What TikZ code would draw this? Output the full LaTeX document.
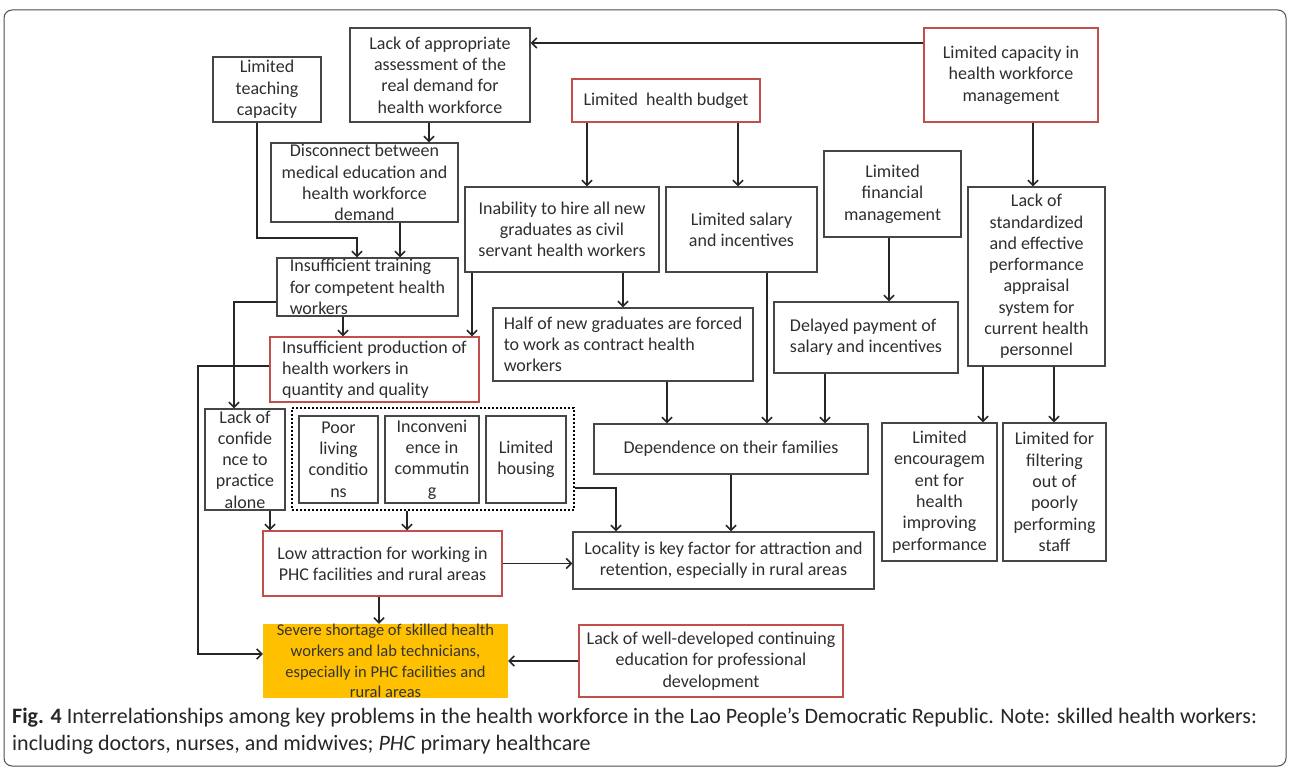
\documentclass[tikz,border=0pt]{standalone}
\usepackage{fontspec}
\setmainfont{Carlito}
\usepackage{tikz}
\usetikzlibrary{arrows.meta,positioning}

\definecolor{boxgray}{RGB}{70,70,70}
\definecolor{boxred}{RGB}{192,80,77}
\definecolor{shortfill}{RGB}{255,192,0}
\newcommand{\boxfont}{\fontsize{18}{21.3}\selectfont}

\tikzset{
  box/.style={draw=boxgray, line width=1.4pt, inner sep=0pt, align=center,
              font=\boxfont, text=black!82},
  redbox/.style={box, draw=boxred},
  arr/.style={-{Straight Barb[length=5pt,width=10pt]}, line width=1.6pt, draw=black!85},
}

\begin{document}
\begin{tikzpicture}[x=1pt, y=-1pt]
  \useasboundingbox (0,0) rectangle (1290,770);
  % Frame
  \draw[line width=1pt, black!70, rounded corners=8pt] (4,10) rectangle (1286,766);

  % Top row
  \node[box, minimum width=108pt, minimum height=65pt] (teach) at (267,89.5)
    {Limited\\teaching\\capacity};
  \node[box, minimum width=180pt, minimum height=94pt] (assess) at (440,75)
    {Lack of appropriate\\assessment of the\\real demand for\\health workforce};
  \node[redbox, minimum width=174pt, minimum height=94pt] (mgmt) at (1011,75)
    {Limited capacity in\\health workforce\\management};
  \node[redbox, minimum width=188pt, minimum height=43pt] (budget) at (666,100.5)
    {Limited\ \ health budget};

  % Second row
  \node[box, minimum width=187pt, minimum height=79pt] (disc) at (364.5,182.5)
    {Disconnect between\\medical education and\\health workforce\\demand};
  \node[box, minimum width=194pt, minimum height=85pt] (hire) at (562,229.5)
    {Inability to hire all new\\graduates as civil\\servant health workers};
  \node[box, minimum width=151pt, minimum height=85pt] (salary) at (741.5,229.5)
    {Limited salary\\and incentives};
  \node[box, minimum width=137pt, minimum height=86pt] (finmgmt) at (892.5,194)
    {Limited\\financial\\management};
  \node[box, minimum width=137pt, minimum height=179pt] (perf) at (1036.5,276.5)
    {Lack of\\standardized\\and effective\\performance\\appraisal\\system for\\current health\\personnel};

  % Third row
  \node[box, align=left, minimum width=181pt, minimum height=58pt] (train) at (367.5,287)
    {Insufficient training\\for competent health\\workers};
  \node[box, align=left, minimum width=260pt, minimum height=73pt] (half) at (623,344.5)
    {Half of new graduates are forced\\to work as contract health\\workers};
  \node[box, align=left, minimum width=184pt, minimum height=71pt] (delay) at (866,337.5)
    {Delayed payment of\\salary and incentives};
  \node[redbox, align=left, minimum width=209pt, minimum height=65pt] (prod) at (374.5,369.5)
    {Insufficient production of\\health workers in\\quantity and quality};

  % Living conditions
  \node[box, minimum width=80pt, minimum height=101pt] (conf) at (245,459.5)
    {Lack of\\confide\\nce to\\practice\\alone};
  \node[draw, line width=2.2pt, dash pattern=on 2pt off 2pt, minimum width=282pt,
        minimum height=102pt, inner sep=0pt] (group) at (433,459) {};
  \node[box, minimum width=79pt, minimum height=87pt] (poor) at (338.5,459.5)
    {Poor\\living\\conditio\\ns};
  \node[box, minimum width=94pt, minimum height=87pt] (inconv) at (432,459.5)
    {Inconveni\\ence in\\commutin\\g};
  \node[box, minimum width=80pt, minimum height=87pt] (housing) at (526,459.5)
    {Limited\\housing};
  \node[box, minimum width=274pt, minimum height=50pt] (dep) at (731,449)
    {Dependence on their families};
  \node[box, minimum width=115pt, minimum height=138pt] (enc) at (939.5,492)
    {Limited\\encouragem\\ent for\\health\\improving\\performance};
  \node[box, minimum width=103pt, minimum height=138pt] (filt) at (1054.5,492)
    {Limited for\\filtering\\out of\\poorly\\performing\\staff};

  % Lower rows
  \node[redbox, minimum width=239pt, minimum height=65pt] (low) at (382.5,563.5)
    {Low attraction for working in\\PHC facilities and rural areas};
  \node[box, minimum width=301pt, minimum height=57pt] (loc) at (723.5,560.5)
    {Locality is key factor for attraction and\\retention, especially in rural areas};
  \node[fill=shortfill, inner sep=0pt, align=center, minimum width=245pt,
        minimum height=72pt, text=black!80,
        font=\fontsize{16.5}{20.8}\selectfont] (short) at (385.5,661)
    {Severe shortage of skilled health\\workers and lab technicians,\\especially in PHC facilities and\\rural areas};
  \node[redbox, minimum width=264pt, minimum height=72pt] (cont) at (711,661)
    {Lack of well-developed continuing\\education for professional\\development};

  % Connectors
  \draw[arr] (mgmt.west |- 0,43) -- (assess.east |- 0,43);
  \draw[arr] (1033,0 |- mgmt.south) -- (1033,0 |- perf.north);
  \draw[arr] (429,0 |- assess.south) -- (429,0 |- disc.north);
  \draw[arr] (257,0 |- teach.south) -- (257,238) -| (357,0 |- train.north);
  \draw[arr] (400,0 |- disc.south) -- (400,0 |- train.north);
  \draw[arr] (587,0 |- budget.south) -- (587,0 |- hire.north);
  \draw[arr] (738,0 |- budget.south) -- (738,0 |- salary.north);
  \draw[arr] (623,0 |- hire.south) -- (623,0 |- half.north);
  \draw[arr] (472,0 |- hire.south) -- (472,0 |- prod.north);
  \draw[arr] (343,0 |- train.south) -- (343,0 |- prod.north);
  \draw[arr] (train.west |- 0,302) -| (234,0 |- conf.north);
  \draw[arr] (prod.west |- 0,366) -- (198,366) |- (short.west |- 0,654);
  \draw[arr] (889,0 |- finmgmt.south) -- (889,0 |- delay.north);
  \draw[arr] (667,0 |- half.south) -- (667,0 |- dep.north);
  \draw[arr] (767,0 |- salary.south) -- (767,0 |- dep.north);
  \draw[arr] (825,0 |- delay.south) -- (825,0 |- dep.north);
  \draw[arr] (983,0 |- perf.south) -- (983,0 |- enc.north);
  \draw[arr] (1054,0 |- perf.south) -- (1054,0 |- filt.north);
  \draw[arr] (270,0 |- conf.south) -- (270,0 |- low.north);
  \draw[arr] (407,0 |- group.south) -- (407,0 |- low.north);
  \draw[arr] (group.east |- 0,488) -| (616,0 |- loc.north);
  \draw[arr] (731,0 |- dep.south) -- (731,0 |- loc.north);
  \draw[arr] (low.east) -- (low.east -| loc.west);
  \draw[arr] (379,0 |- low.south) -- (379,0 |- short.north);
  \draw[arr] (cont.west) -- (cont.west -| short.east);

  % Caption
  \node[anchor=north west, align=left, inner sep=0pt,
        font=\fontsize{22}{27}\selectfont, text=black!85] (caption) at (12,708)
    {\textbf{Fig. 4} Interrelationships among key problems in the health workforce in the Lao People's Democratic Republic. Note: skilled health workers:\\including doctors, nurses, and midwives; \textit{PHC} primary healthcare};
\end{tikzpicture}
\end{document}
